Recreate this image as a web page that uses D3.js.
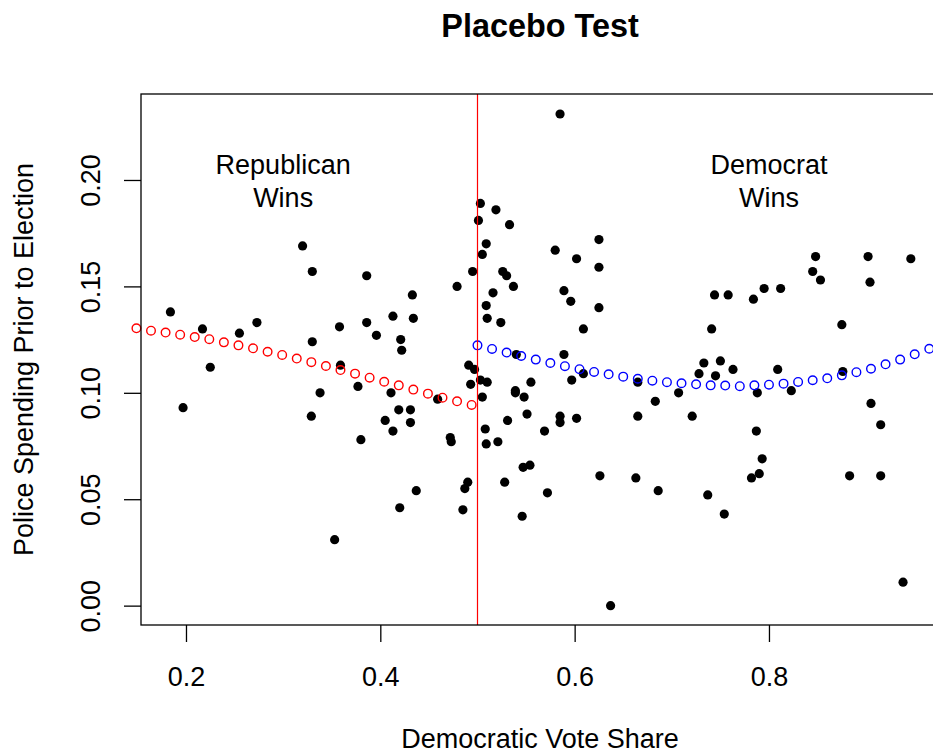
<!DOCTYPE html>
<html><head><meta charset="utf-8">
<script src="https://cdn.jsdelivr.net/npm/d3@7"></script>
<style>html,body{margin:0;padding:0;background:#fff;} svg{display:block;font-family:"Liberation Sans",Arial,Helvetica,sans-serif;}</style>
</head><body><svg id="chart" width="933" height="755"></svg>
<script>
// ---- data ----
const voteShare = [0.184,0.197,0.217,0.225,0.255,0.273,0.320,0.330,0.330,0.329,0.338,0.353,0.358,0.359,0.377,0.380,0.386,0.386,0.396,0.405,0.411,0.413,0.413,0.419,0.420,0.421,0.422,0.431,0.431,0.433,0.434,0.437,0.459,0.472,0.473,0.479,0.485,0.487,0.490,0.491,0.493,0.495,0.497,0.501,0.503,0.503,0.505,0.505,0.508,0.509,0.509,0.509,0.510,0.510,0.516,0.519,0.521,0.524,0.526,0.528,0.530,0.531,0.533,0.537,0.539,0.539,0.540,0.546,0.547,0.548,0.551,0.554,0.555,0.569,0.572,0.580,0.585,0.585,0.585,0.589,0.589,0.596,0.597,0.602,0.602,0.609,0.609,0.625,0.625,0.625,0.626,0.637,0.663,0.665,0.665,0.683,0.686,0.707,0.721,0.728,0.733,0.737,0.741,0.744,0.745,0.750,0.754,0.758,0.763,0.782,0.784,0.787,0.788,0.790,0.793,0.795,0.809,0.812,0.823,0.845,0.848,0.853,0.875,0.876,0.883,0.902,0.904,0.905,0.915,0.915,0.938,0.946];
const policeSpending = [0.138,0.093,0.130,0.112,0.128,0.133,0.169,0.157,0.124,0.089,0.100,0.031,0.131,0.113,0.103,0.078,0.155,0.133,0.127,0.087,0.100,0.082,0.136,0.092,0.046,0.125,0.120,0.092,0.086,0.146,0.135,0.054,0.097,0.079,0.077,0.150,0.045,0.055,0.058,0.113,0.104,0.157,0.111,0.181,0.189,0.106,0.165,0.098,0.083,0.170,0.141,0.076,0.135,0.105,0.147,0.186,0.077,0.133,0.157,0.058,0.155,0.087,0.179,0.150,0.101,0.100,0.118,0.042,0.065,0.098,0.090,0.066,0.105,0.082,0.053,0.167,0.089,0.086,0.231,0.148,0.118,0.143,0.106,0.163,0.088,0.130,0.109,0.172,0.159,0.140,0.061,0.000,0.060,0.105,0.089,0.096,0.054,0.100,0.089,0.109,0.114,0.052,0.130,0.146,0.108,0.115,0.043,0.146,0.111,0.060,0.144,0.082,0.100,0.062,0.069,0.149,0.111,0.149,0.101,0.157,0.164,0.153,0.132,0.110,0.061,0.164,0.152,0.095,0.085,0.061,0.011,0.163];

const republicanFitX = [0.149,0.164,0.179,0.194,0.209,0.224,0.239,0.254,0.269,0.284,0.299,0.314,0.329,0.344,0.359,0.374,0.389,0.404,0.419,0.434,0.449,0.464,0.479,0.494];
const republicanFitY = [0.1303,0.1292,0.1283,0.1273,0.1262,0.1252,0.1237,0.1223,0.1209,0.1193,0.1178,0.1161,0.1144,0.1126,0.1107,0.1090,0.1071,0.1052,0.1035,0.1015,0.0996,0.0977,0.0960,0.0943];
const democratFitX = [0.500,0.515,0.530,0.545,0.560,0.575,0.590,0.605,0.620,0.635,0.650,0.665,0.680,0.695,0.710,0.725,0.740,0.755,0.770,0.785,0.800,0.815,0.830,0.845,0.860,0.875,0.890,0.905,0.920,0.935,0.950,0.965];
const democratFitY = [0.1223,0.1206,0.1189,0.1173,0.1156,0.1140,0.1125,0.1111,0.1098,0.1087,0.1076,0.1066,0.1057,0.1050,0.1045,0.1040,0.1035,0.1034,0.1031,0.1035,0.1038,0.1043,0.1051,0.1059,0.1068,0.1082,0.1097,0.1113,0.1134,0.1156,0.1181,0.1207];

const xTicks = [0.2, 0.4, 0.6, 0.8];
const xTickLabels = ["0.2", "0.4", "0.6", "0.8"];
const yTicks = [0.00, 0.05, 0.10, 0.15, 0.20];
const yTickLabels = ["0.00", "0.05", "0.10", "0.15", "0.20"];
const xLimits = [0.1537, 0.975];
const yLimits = [-0.0091, 0.2404];
const cutoff = 0.5;
const annotations = [
  {x: 0.3, y: 0.19, lines: ["Republican", "Wins"]},
  {x: 0.8, y: 0.19, lines: ["Democrat", "Wins"]}
];

// ---- drawing ----
const svg = d3.select("#chart");
svg.append("rect").attr("width", 933).attr("height", 755).attr("fill", "#fff");
const plot = {left: 141, top: 94, right: 939, bottom: 625};
const x = d3.scaleLinear().domain(xLimits).range([plot.left, plot.right]);
const y = d3.scaleLinear().domain(yLimits).range([plot.bottom, plot.top]);
const FS = 27;

// x axis
const gx = svg.append("g").attr("transform", `translate(0,${plot.bottom})`)
  .call(d3.axisBottom(x).tickValues(xTicks).tickFormat((d, i) => xTickLabels[i]).tickSize(17).tickPadding(25));
gx.select(".domain").remove();
gx.attr("font-size", FS).attr("font-family", null);
gx.selectAll("line").attr("stroke", "#000").attr("stroke-width", 1.3);
gx.selectAll("text").attr("fill", "#000");

// y axis
const gy = svg.append("g").attr("transform", `translate(${plot.left},0)`)
  .call(d3.axisLeft(y).tickValues(yTicks).tickFormat((d, i) => yTickLabels[i]).tickSize(17));
gy.select(".domain").remove();
gy.attr("font-size", FS).attr("font-family", null);
gy.selectAll("line").attr("stroke", "#000").attr("stroke-width", 1.3);
gy.selectAll("text").attr("fill", "#000")
  .attr("x", 0).attr("y", -41).attr("dy", 0)
  .attr("text-anchor", "middle").attr("transform", "rotate(-90)");

// points
svg.append("g").selectAll("circle").data(voteShare).join("circle")
  .attr("cx", d => x(d)).attr("cy", (d, i) => y(policeSpending[i]))
  .attr("r", 4.6).attr("fill", "#000");

// fitted values
svg.append("g").selectAll("circle").data(republicanFitX).join("circle")
  .attr("cx", d => x(d)).attr("cy", (d, i) => y(republicanFitY[i]))
  .attr("r", 4.3).attr("fill", "none").attr("stroke", "#ff0000").attr("stroke-width", 1.4);
svg.append("g").selectAll("circle").data(democratFitX).join("circle")
  .attr("cx", d => x(d)).attr("cy", (d, i) => y(democratFitY[i]))
  .attr("r", 4.3).attr("fill", "none").attr("stroke", "#0000ff").attr("stroke-width", 1.4);

// cutoff line
const cx0 = Math.floor(x(cutoff)) + 0.5;
svg.append("line").attr("x1", cx0).attr("x2", cx0)
  .attr("y1", plot.top).attr("y2", plot.bottom)
  .attr("stroke", "#ff0000").attr("stroke-width", 1.2);

// box
svg.append("rect").attr("x", plot.left).attr("y", plot.top)
  .attr("width", plot.right - plot.left).attr("height", plot.bottom - plot.top)
  .attr("fill", "none").attr("stroke", "#000").attr("stroke-width", 1.3);

// annotations
annotations.forEach(a => {
  const t = svg.append("text").attr("text-anchor", "middle").attr("font-size", FS).attr("fill", "#000");
  a.lines.forEach((ln, i) => {
    t.append("tspan").attr("x", x(a.x)).attr("y", y(a.y) - 27 + i * 32.4).text(ln);
  });
});

// titles
svg.append("text").attr("x", (plot.left + plot.right) / 2).attr("y", 37)
  .attr("text-anchor", "middle").attr("font-size", 32.4).attr("font-weight", "bold")
  .attr("fill", "#000").text("Placebo Test");
svg.append("text").attr("x", (plot.left + plot.right) / 2).attr("y", 748)
  .attr("text-anchor", "middle").attr("font-size", FS).attr("fill", "#000")
  .text("Democratic Vote Share");
svg.append("text").attr("transform", `translate(33,${(plot.top + plot.bottom) / 2}) rotate(-90)`)
  .attr("text-anchor", "middle").attr("font-size", FS).attr("fill", "#000")
  .text("Police Spending Prior to Election");
</script></body></html>
